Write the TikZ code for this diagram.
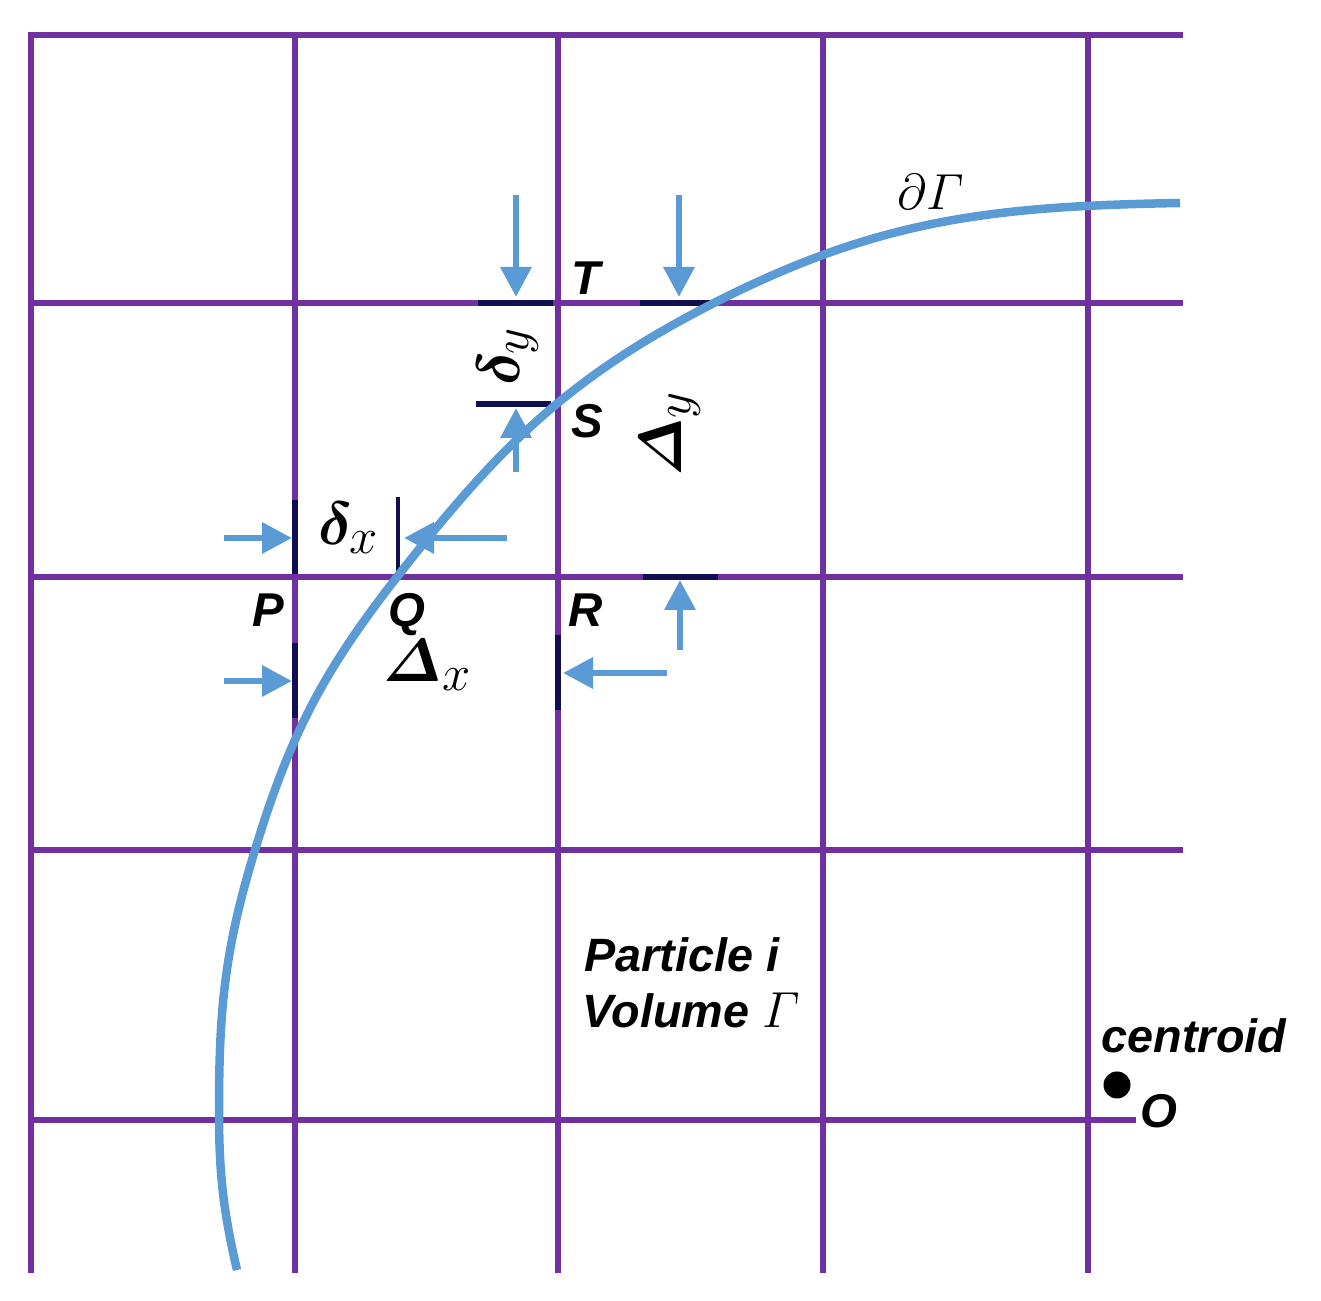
\documentclass[tikz,border=0pt]{standalone}
\usepackage{amsmath}
\usepackage{bm}
\usepackage{fontspec}
\setsansfont{Liberation Sans}
\usepackage{tikz}
\usetikzlibrary{arrows.meta,calc}
\definecolor{gridpurple}{RGB}{112,48,160}
\definecolor{edgeblue}{RGB}{91,155,213}
\definecolor{ticknavy}{RGB}{16,16,80}
\tikzset{
	cell line/.style={
		gridpurple,
		line width=0.065cm,
		line cap=rect
	},
	boundary/.style={
		edgeblue,
		line width=0.085cm
	},
	pointer/.style={
		edgeblue,
		line width=0.065cm,
		-{Triangle[length=0.30cm,width=0.30cm]}
	},
	offset mark/.style={
		ticknavy,
		line width=0.055cm
	},
	thin mark/.style={
		ticknavy,
		line width=0.035cm
	},
	point label/.style={
		anchor=base,
		inner sep=0pt,
		font=\fontsize{13.5}{16}\selectfont\sffamily\bfseries\itshape
	},
	body label/.style={
		anchor=base,
		inner sep=0pt,
		font=\fontsize{13.3}{16}\selectfont\sffamily\bfseries\itshape
	},
	spacing label/.style={
		inner sep=0pt,
		font=\fontsize{19}{22}\selectfont
	}
}
\begin{document}
\begin{tikzpicture}
	\useasboundingbox (0,0) rectangle (13.21,13.01);
	% cells
	\foreach \gx in {0.31,2.95,5.58,8.23,10.88}
		\draw[cell line] (\gx,0.31) -- (\gx,12.66);
	\foreach \gy/\gend in {12.66/11.80,9.98/11.80,7.24/11.80,4.51/11.80,1.81/11.33}
		\draw[cell line] (0.31,\gy) -- (\gend,\gy);
	% offsets marked on the cell lines
	\draw[offset mark] (4.78,9.98) -- (5.53,9.98);
	\draw[offset mark] (6.40,9.98) -- (7.15,9.98);
	\draw[offset mark] (4.76,8.97) -- (5.51,8.97);
	\draw[offset mark] (2.95,8.01) -- (2.95,7.27);
	\draw[thin mark] (3.98,8.04) -- (3.98,7.24);
	\draw[offset mark] (2.95,6.58) -- (2.95,5.83);
	\draw[offset mark] (6.43,7.24) -- (7.18,7.24);
	\draw[offset mark] (5.58,6.66) -- (5.58,5.91);
	% particle surface
	\draw[boundary] (11.80,10.98) to[out=181,in=27] (7.14,9.98)
		to[out=207,in=52] (3.97,7.24)
		to[out=232,in=73] (2.55,4.51)
		to[out=253,in=90] (2.19,1.91)
		to[out=270,in=103] (2.37,0.31);
	% pointers
	\coordinate (tail1) at (5.16,11.06); \coordinate (tip1) at (5.16,10.04);
	\coordinate (tail2) at (6.79,11.06); \coordinate (tip2) at (6.79,10.04);
	\coordinate (tail3) at (5.16,8.29);  \coordinate (tip3) at (5.16,8.93);
	\coordinate (tail4) at (2.24,7.63);  \coordinate (tip4) at (2.92,7.63);
	\coordinate (tail5) at (5.07,7.63);  \coordinate (tip5) at (4.04,7.63);
	\coordinate (tail6) at (2.24,6.20);  \coordinate (tip6) at (2.92,6.20);
	\coordinate (tail7) at (6.80,6.51);  \coordinate (tip7) at (6.80,7.21);
	\coordinate (tail8) at (6.67,6.28);  \coordinate (tip8) at (5.63,6.28);
	\foreach \i in {1,...,8}
		\draw[pointer] (tail\i) -- (tip\i);
	% labels
	\node[point label] (p) at (2.68,6.74) {P};
	\node[point label] (q) at (4.07,6.74) {Q};
	\node[point label] (r) at (5.86,6.74) {R};
	\node[point label] (s) at (5.87,8.63) {S};
	\node[point label] (t) at (5.86,10.06) {T};
	\node[spacing label] (dx) at (3.49,7.73) {$\boldsymbol{\delta}_x$};
	\node[spacing label] (Dx) at (4.28,6.36) {$\boldsymbol{\varDelta}_x$};
	\node[spacing label,rotate=90] (dy) at (5.08,9.45) {$\boldsymbol{\delta}_y$};
	\node[spacing label,rotate=90] (Dy) at (6.70,8.67) {$\boldsymbol{\varDelta}_y$};
	\node[anchor=base,inner sep=0pt,font=\fontsize{15}{18}\selectfont] (surface) at (9.31,10.91) {$\partial\varGamma$};
	\node[body label] (particle) at (6.82,3.29) {Particle i};
	\node[body label] (volume) at (6.91,2.73) {Volume $\varGamma$};
	\node[body label] (centroid) at (11.94,2.48) {centroid};
	\node[circle,fill,inner sep=0pt,minimum size=0.27cm] (o dot) at (11.17,2.16) {};
	\node[point label] (o) at (11.59,1.73) {O};
\end{tikzpicture}
\end{document}
